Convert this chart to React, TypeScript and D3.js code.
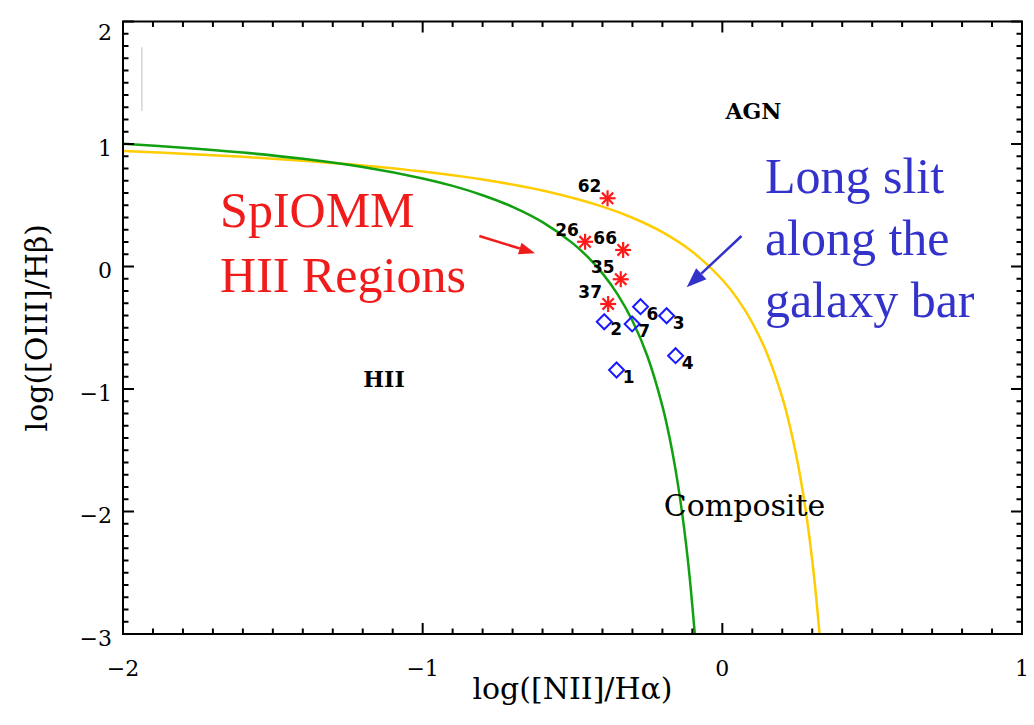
import { useEffect, useRef } from 'react';
import * as d3 from 'd3';

// Demarcation curves: [x, y] pairs
const greenCurve: [number, number][] = [
  [-2.0, 1.002], [-1.8, 0.970], [-1.6, 0.930], [-1.4, 0.879], [-1.2, 0.812],
  [-1.0, 0.719], [-0.9, 0.658], [-0.8, 0.582], [-0.7, 0.487], [-0.6, 0.362],
  [-0.5, 0.191], [-0.45, 0.080], [-0.4, -0.056], [-0.35, -0.225], [-0.3, -0.443],
  [-0.25, -0.733], [-0.2, -1.140], [-0.175, -1.411], [-0.15, -1.750], [-0.13, -2.089],
  [-0.11, -2.513], [-0.0915, -3.011],
];
const yellowCurve: [number, number][] = [
  [-2.0, 0.943], [-1.8, 0.921], [-1.6, 0.895], [-1.4, 0.864], [-1.2, 0.825],
  [-1.0, 0.775], [-0.8, 0.710], [-0.6, 0.620], [-0.4, 0.489], [-0.3, 0.398],
  [-0.2, 0.280], [-0.1, 0.120], [0.0, -0.108], [0.05, -0.262], [0.1, -0.459],
  [0.15, -0.716], [0.2, -1.069], [0.225, -1.300], [0.25, -1.583], [0.27, -1.860],
  [0.29, -2.199], [0.31, -2.623], [0.326, -3.046],
];

// SpIOMM HII regions (red stars)
const starIds = ['62', '26', '66', '35', '37'];
const starX = [-0.383, -0.458, -0.331, -0.339, -0.381];
const starY = [0.557, 0.202, 0.135, -0.104, -0.306];

// long slit points (blue diamonds)
const slitIds = ['2', '6', '7', '3', '4', '1'];
const slitX = [-0.394, -0.273, -0.301, -0.186, -0.156, -0.353];
const slitY = [-0.451, -0.328, -0.469, -0.402, -0.728, -0.845];

const xTicks = [-2, -1, 0, 1];
const yTicks = [-3, -2, -1, 0, 1, 2];

const regionLabels = ['AGN', 'HII', 'Composite'];
const regionX = [0.104, -1.129, 0.074];
const regionY = [1.269, -0.918, -1.955];

const W = 1034;
const H = 725;
const margin = { top: 21.5, right: 12, bottom: 91, left: 123 };

export default function App() {
  const ref = useRef<SVGSVGElement | null>(null);

  useEffect(() => {
    document.body.style.margin = '0';
    if (!ref.current) return;
    const root = d3.select(ref.current);
    root.selectAll('*').remove();

    const x = d3.scaleLinear().domain([-2, 1]).range([margin.left, W - margin.right]);
    const y = d3.scaleLinear().domain([-3, 2]).range([H - margin.bottom, margin.top]);
    const [x0, x1] = x.range();
    const [y0, y1] = [y(2), y(-3)];

    const serif = "'DejaVu Serif', serif";
    const times = "'Liberation Serif', 'Times New Roman', serif";

    root.append('rect').attr('width', W).attr('height', H).attr('fill', '#fff');

    // faint artifact line near the top-left corner
    root.append('line')
      .attr('x1', x(-1.937)).attr('x2', x(-1.937))
      .attr('y1', y(1.79)).attr('y2', y(1.27))
      .attr('stroke', '#d4d4d4').attr('stroke-width', 1.5);

    root.append('defs').append('clipPath').attr('id', 'plot-clip')
      .append('rect').attr('x', x0).attr('y', y0).attr('width', x1 - x0).attr('height', y1 - y0);

    const line = d3.line<[number, number]>()
      .x(d => x(d[0])).y(d => y(d[1]))
      .curve(d3.curveCatmullRom.alpha(0.5));

    const curves = root.append('g').attr('clip-path', 'url(#plot-clip)');
    curves.append('path').attr('d', line(yellowCurve)).attr('fill', 'none')
      .attr('stroke', '#ffcc00').attr('stroke-width', 2.5);
    curves.append('path').attr('d', line(greenCurve)).attr('fill', 'none')
      .attr('stroke', '#11a011').attr('stroke-width', 2.5);

    // ticks on all four sides, pointing inward
    const axes = root.append('g').attr('stroke', '#000').attr('stroke-width', 2);
    const xMinor = d3.range(-2, 1.0001, 0.1);
    const yMinor = d3.range(-3, 2.0001, 0.1);
    xMinor.forEach(v => {
      const major = Math.abs(v - Math.round(v)) < 1e-6;
      const len = major ? 11 : 5.5;
      axes.append('line').attr('x1', x(v)).attr('x2', x(v)).attr('y1', y1).attr('y2', y1 - len);
      axes.append('line').attr('x1', x(v)).attr('x2', x(v)).attr('y1', y0).attr('y2', y0 + len);
    });
    yMinor.forEach(v => {
      const major = Math.abs(v - Math.round(v)) < 1e-6;
      const len = major ? 11 : 5.5;
      axes.append('line').attr('y1', y(v)).attr('y2', y(v)).attr('x1', x0).attr('x2', x0 + len);
      axes.append('line').attr('y1', y(v)).attr('y2', y(v)).attr('x1', x1).attr('x2', x1 - len);
    });
    axes.append('rect').attr('x', x0).attr('y', y0).attr('width', x1 - x0).attr('height', y1 - y0)
      .attr('fill', 'none');

    const fmt = (v: number) => (v < 0 ? '\u2212' + Math.abs(v) : String(v));

    root.append('g').selectAll('text').data(xTicks).enter().append('text')
      .attr('x', d => x(d)).attr('y', y1 + 42)
      .attr('text-anchor', 'middle')
      .style('font-family', serif).style('font-size', '22px')
      .text(d => fmt(d));

    root.append('g').selectAll('text').data(yTicks).enter().append('text')
      .attr('x', x0 - 11).attr('y', d => Math.max(y(d) + 4, y0 + 11))
      .attr('text-anchor', 'end').attr('dominant-baseline', 'central')
      .style('font-family', serif).style('font-size', '22px')
      .text(d => fmt(d));

    // axis titles
    root.append('text')
      .attr('x', (x0 + x1) / 2).attr('y', 699)
      .attr('text-anchor', 'middle')
      .style('font-family', serif).style('font-size', '30px')
      .text('log([NII]/H\u03B1)');
    root.append('text')
      .attr('transform', `translate(47,${(y0 + y1) / 2}) rotate(-90)`)
      .attr('text-anchor', 'middle')
      .style('font-family', serif).style('font-size', '30px')
      .text('log([OIII]/H\u03B2)');

    // region labels
    root.append('g').selectAll('text').data(regionLabels).enter().append('text')
      .attr('x', (_, i) => x(regionX[i])).attr('y', (_, i) => y(regionY[i]))
      .attr('text-anchor', 'middle').attr('dominant-baseline', 'central')
      .style('font-family', serif)
      .style('font-size', (_, i) => (i < 2 ? '22px' : '30px'))
      .style('font-weight', (_, i) => (i < 2 ? 'bold' : 'normal'))
      .text(d => d);

    // red stars
    const stars = root.append('g');
    starIds.forEach((id, i) => {
      const cx = x(starX[i]);
      const cy = y(starY[i]);
      const r = 8;
      const g = stars.append('g').attr('stroke', '#ff1a1a').attr('stroke-width', 2.2);
      [0, 45, 90, 135].forEach(a => {
        const dx = r * Math.cos((a * Math.PI) / 180);
        const dy = r * Math.sin((a * Math.PI) / 180);
        g.append('line').attr('x1', cx - dx).attr('y1', cy - dy).attr('x2', cx + dx).attr('y2', cy + dy);
      });
      stars.append('text')
        .attr('x', cx - 18).attr('y', cy - 12)
        .attr('text-anchor', 'middle').attr('dominant-baseline', 'central')
        .style('font-family', "'DejaVu Sans', sans-serif").style('font-weight', 'bold')
        .style('font-size', '17px')
        .text(id);
    });

    // blue diamonds
    const diamonds = root.append('g');
    slitIds.forEach((id, i) => {
      const cx = x(slitX[i]);
      const cy = y(slitY[i]);
      const r = 7.5;
      diamonds.append('path')
        .attr('d', `M${cx},${cy - r}L${cx + r},${cy}L${cx},${cy + r}L${cx - r},${cy}Z`)
        .attr('fill', 'none').attr('stroke', '#1a1aff').attr('stroke-width', 2);
      diamonds.append('text')
        .attr('x', cx + 12).attr('y', cy + 7)
        .attr('text-anchor', 'middle').attr('dominant-baseline', 'central')
        .style('font-family', "'DejaVu Sans', sans-serif").style('font-weight', 'bold')
        .style('font-size', '17px')
        .text(id);
    });

    // annotations
    const arrow = (from: [number, number], to: [number, number], color: string, head: number, hw: number) => {
      const ax = x(from[0]), ay = y(from[1]);
      const bx = x(to[0]), by = y(to[1]);
      const ang = Math.atan2(by - ay, bx - ax);
      const cx = bx - head * Math.cos(ang), cy = by - head * Math.sin(ang);
      root.append('line').attr('x1', ax).attr('y1', ay).attr('x2', cx).attr('y2', cy)
        .attr('stroke', color).attr('stroke-width', 2.5);
      const px = -Math.sin(ang) * hw, py = Math.cos(ang) * hw;
      root.append('path')
        .attr('d', `M${bx},${by}L${cx + px},${cy + py}L${cx - px},${cy - py}Z`)
        .attr('fill', color);
    };

    const red = '#f01c1c';
    const blue = '#3333cc';
    const redLines = ['SpIOMM', 'HII Regions'];
    const redBase = [0.320, -0.206];
    redLines.forEach((t, i) => {
      root.append('text').attr('x', x(-1.676)).attr('y', y(redBase[i]))
        .style('font-family', times).style('font-size', '50px').attr('fill', red).text(t);
    });
    arrow([-0.811, 0.249], [-0.625, 0.108], red, 16, 6);

    const blueLines = ['Long slit', 'along the', 'galaxy bar'];
    const blueBase = [0.598, 0.094, -0.410];
    blueLines.forEach((t, i) => {
      root.append('text').attr('x', x(0.142)).attr('y', y(blueBase[i]))
        .style('font-family', times).style('font-size', '50px').attr('fill', blue).text(t);
    });
    arrow([0.064, 0.249], [-0.119, -0.170], blue, 20, 7.5);
  }, []);

  return <svg ref={ref} width={W} height={H} style={{ display: 'block' }} />;
}
